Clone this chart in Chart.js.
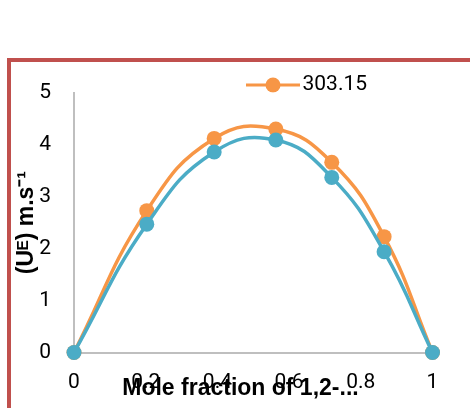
<!DOCTYPE html>
<html>
<head>
<meta charset="utf-8">
<script src="https://cdn.jsdelivr.net/npm/chart.js@4"></script>
<style>
  html, body { margin: 0; padding: 0; background: #fff; overflow: hidden; }
  #frame { position: absolute; left: 7px; top: 58px; width: 1000px; height: 1000px; border: 4px solid #c0504d; }
  #chart { position: absolute; left: 0; top: 0; }
</style>
</head>
<body>
<div id="frame"></div>
<canvas id="chart" width="621" height="408"></canvas>
<script>
// Data
const moleFraction = [0, 0.203, 0.391, 0.563, 0.719, 0.865, 1];
const ue303 = [0, 2.73, 4.12, 4.30, 3.66, 2.23, 0];
const ue308 = [0, 2.47, 3.86, 4.09, 3.37, 1.94, 0];
const seriesLabels = ['303.15', '308.15'];
const xTicks = [0, 0.2, 0.4, 0.6, 0.8, 1];
const yTicks = [0, 1, 2, 3, 4, 5];

const ORANGE = '#f79646';
const TEAL = '#4bacc6';

Chart.defaults.font.family = 'Roboto, "Liberation Sans", sans-serif';
Chart.defaults.color = '#000';

// legend marker: line with a dot, like the spreadsheet legend
function legendIcon(color) {
    const c = document.createElement('canvas');
    c.width = 54;
    c.height = 18;
    const g = c.getContext('2d');
    g.strokeStyle = color;
    g.lineWidth = 3;
    g.beginPath();
    g.moveTo(0, 9);
    g.lineTo(54, 9);
    g.stroke();
    g.fillStyle = color;
    g.beginPath();
    g.arc(27, 9, 7.5, 0, Math.PI * 2);
    g.fill();
    return c;
}

const toPoints = (ys) => ys.map((y, i) => ({ x: moleFraction[i], y: y }));

const data = {
    datasets: [{
        label: seriesLabels[0],
        data: toPoints(ue303),
        borderColor: ORANGE,
        backgroundColor: ORANGE,
        clip: false,
        order: 1
    }, {
        label: seriesLabels[1],
        data: toPoints(ue308),
        borderColor: TEAL,
        backgroundColor: TEAL,
        clip: false,
        order: 0
    }]
};

const axisLine = { display: true, color: '#bfbfbf', width: 2 };

const config = {
    type: 'scatter',
    data: data,
    options: {
        responsive: false,
        animation: false,
        layout: { padding: { left: 0, right: 0, top: 74.5, bottom: 0 } },
        elements: {
            line: { borderWidth: 3.5, tension: 0.45 },
            point: { radius: 7.5, borderWidth: 0, hoverRadius: 7.5 }
        },
        datasets: { scatter: { showLine: true } },
        scales: {
            x: {
                type: 'linear',
                min: 0,
                max: 1,
                afterFit: (s) => { s.height = 55.5; },
                afterBuildTicks: (s) => { s.ticks = xTicks.map(v => ({ value: v })); },
                grid: { display: false, drawTicks: false },
                border: axisLine,
                ticks: { padding: 18, font: { size: 21 }, callback: (v) => String(v) },
                title: {
                    display: true,
                    text: 'Mole fraction of 1,2-...    ',
                    color: '#000',
                    font: { size: 23, weight: 'bold', family: '"Liberation Sans", Arial, sans-serif' },
                    padding: { top: 0, bottom: 6 }
                }
            },
            y: {
                type: 'linear',
                position: 'left',
                min: 0,
                max: 5,
                afterFit: (s) => { s.width = 74; },
                afterBuildTicks: (s) => { s.ticks = yTicks.map(v => ({ value: v })); },
                grid: { display: false, drawTicks: false },
                border: axisLine,
                ticks: { padding: 23, font: { size: 21 }, callback: (v) => String(v) },
                title: {
                    display: true,
                    text: '(Uᴱ) m.s⁻¹',
                    color: '#000',
                    font: { size: 23, weight: 'bold', family: '"Liberation Sans", Arial, sans-serif' },
                    padding: { top: 13, bottom: 0 }
                }
            },
            // empty right axis: keeps the plot narrow while the legend spans the wider (cropped) canvas
            spacer: {
                type: 'linear',
                position: 'right',
                display: true,
                afterFit: (s) => { s.width = 621 - 432.5; },
                grid: { display: false, drawTicks: false },
                border: { display: false },
                ticks: { display: false }
            }
        },
        plugins: {
            legend: {
                position: 'top',
                maxHeight: 18.2,
                labels: {
                    usePointStyle: true,
                    pointStyle: legendIcon(ORANGE),
                    pointStyleWidth: 38,
                    padding: 0,
                    color: '#000',
                    font: { size: 21 },
                    filter: (item) => item.datasetIndex === 0
                }
            },
            tooltip: { enabled: false }
        }
    }
};

const ctx = document.getElementById('chart').getContext('2d');
const ueChart = new Chart(ctx, config);
</script>
</body>
</html>
